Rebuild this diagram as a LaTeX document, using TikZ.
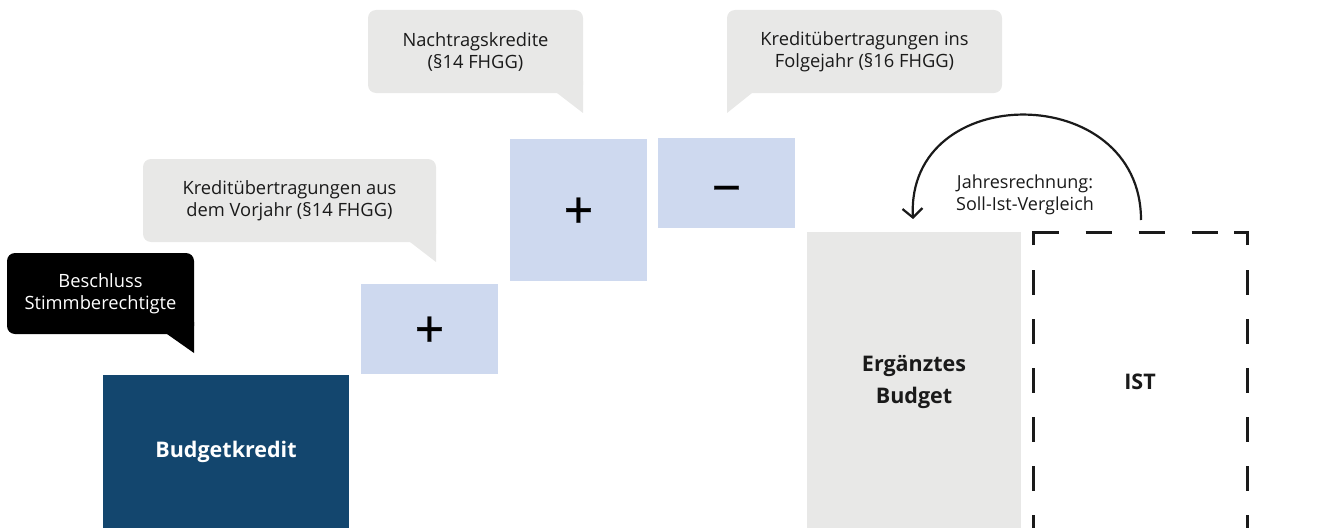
\documentclass[tikz,border=0pt]{standalone}
\usepackage{fontspec}
\setmainfont{Open Sans}
\newfontfamily\opfont{Open Sans}[FakeBold=0.6]
\usetikzlibrary{arrows.meta}
\definecolor{calloutgray}{HTML}{E8E8E7}
\definecolor{plusblue}{HTML}{CED9EF}
\definecolor{navy}{HTML}{13466E}
\definecolor{boxgray}{HTML}{E8E8E7}
\definecolor{ink}{HTML}{1A1A1A}
\tikzset{
  bubble/.style={fill=calloutgray, rounded corners=8pt, inner sep=0pt, align=center,
    font=\fontsize{18.3}{22}\selectfont, text=ink},
  blackbubble/.style={bubble, fill=black, text=white},
  opbox/.style={fill=plusblue, inner sep=0pt},
  opsign/.style={inner sep=0pt, text=black, font=\opfont\fontsize{52}{52}\selectfont},
  bigbox/.style={inner sep=0pt, align=center, font=\fontsize{21.5}{32}\selectfont\bfseries},
  istline/.style={line width=3pt, ink},
}
\begin{document}
\begin{tikzpicture}[x=1pt,y=-1pt]
\useasboundingbox (0,0) rectangle (1324,527);
% black callout
\node[blackbubble, minimum width=187pt, minimum height=81pt] (beschluss) at (100.5,293.5) {Beschluss\\Stimmberechtigte};
\fill[black] (167,334) -- (194,353) -- (194,322) -- cycle;
% callout Vorjahr
\node[bubble, minimum width=293pt, minimum height=83pt] (vorjahr) at (289.5,200.5) {Kreditübertragungen aus\\dem Vorjahr (§14 FHGG)};
\fill[calloutgray] (410,242) -- (436,262) -- (436,230) -- cycle;
% callout Nachtrag
\node[bubble, minimum width=215pt, minimum height=83pt] (nachtrag) at (475.5,51.5) {Nachtragskredite\\(§14 FHGG)};
\fill[calloutgray] (557,93) -- (583,113) -- (583,81) -- cycle;
% callout Folgejahr
\node[bubble, minimum width=275pt, minimum height=83pt] (folgejahr) at (864.5,51.5) {Kreditübertragungen ins\\Folgejahr (§16 FHGG)};
\fill[calloutgray] (752,93) -- (727,113) -- (727,81) -- cycle;
% budget kredit
\node[bigbox, fill=navy, text=white, minimum width=246pt, minimum height=154pt] (budget) at (226,452) {Budgetkredit};
% op boxes
\node[opbox, minimum width=137pt, minimum height=90pt] (plusa) at (429.5,329) {};
\node[opbox, minimum width=137pt, minimum height=142pt] (plusb) at (578.5,210) {};
\node[opbox, minimum width=137pt, minimum height=90pt] (minus) at (726.5,183) {};
\node[opsign] (plusasign) at ([yshift=-3pt]plusa.center) {+};
\node[opsign] (plusbsign) at ([yshift=-3pt]plusb.center) {+};
\node[opsign] (minussign) at ([yshift=-13pt]minus.center) {−};
% Ergänztes Budget
\node[bigbox, fill=boxgray, text=ink, minimum width=214pt, minimum height=300pt] (erg) at (914,382) {Ergänztes\\Budget};
% IST dashed
\coordinate (istTL) at (1033,232);
\coordinate (istTR) at (1247,232);
\coordinate (istBL) at (1033,540);
\coordinate (istBR) at (1247,540);
\draw[istline, miter limit=10] ([yshift=-13pt]istTL) -- (istTL) -- ([xshift=13.5pt]istTL);
\draw[istline, miter limit=10] ([yshift=-13pt]istTR) -- (istTR) -- ([xshift=-13.5pt]istTR);
\draw[istline, dash pattern=on 26.5pt off 26.5pt, dash phase=13.5pt] ([xshift=13pt]istTL) -- ([xshift=-13pt]istTR);
\draw[istline, dash pattern=on 25pt off 24pt] ([yshift=-38pt]istTL) -- (istBL);
\draw[istline, dash pattern=on 25pt off 24pt] ([yshift=-38pt]istTR) -- (istBR);
\node[font=\fontsize{21.5}{24}\selectfont\bfseries, text=ink] (ist) at (1140,382) {IST};
% arc
\coordinate (arcstart) at (1141,220);
\coordinate (arcend) at (913,219);
\draw[line width=2.2pt, ink, -{Straight Barb[length=9pt,width=20pt,line width=2.2pt]}] (arcstart) .. controls (1141,80) and (906,80) .. (arcend);
\node[align=center, font=\fontsize{18}{22}\selectfont, text=ink] (jahres) at (1025,195) {Jahresrechnung:\\Soll-Ist-Vergleich};
\end{tikzpicture}
\end{document}
